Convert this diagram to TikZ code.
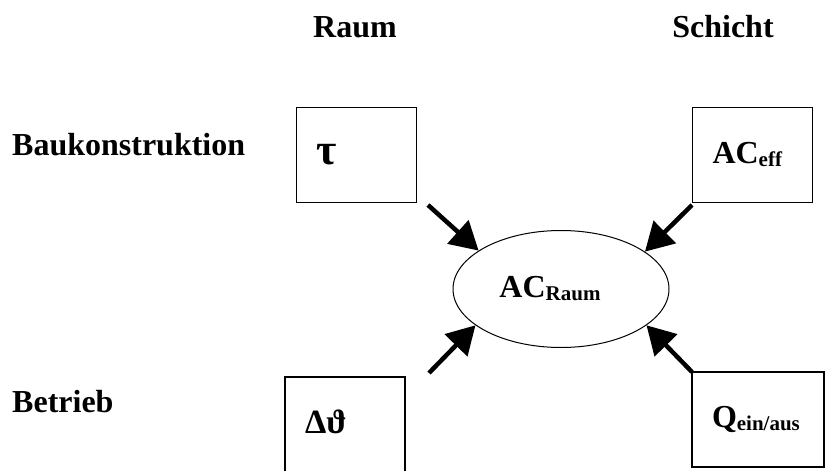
\documentclass[tikz,border=0pt]{standalone}
\usepackage{fontspec}
\setmainfont{Liberation Serif}
\usetikzlibrary{arrows.meta,shapes.geometric}
\newcommand{\subtxt}[1]{\raisebox{-3pt}{\fontsize{21}{24}\selectfont #1}}

\begin{document}
\begin{tikzpicture}[x=1pt,y=-1pt,
		lbl/.style={font=\fontsize{32}{38}\selectfont\bfseries, inner sep=0pt},
		box/.style={draw, line width=1.5pt, minimum width=120pt, minimum height=95pt, inner xsep=20pt, text width=80pt, align=left, font=\fontsize{32}{38}\selectfont\bfseries},
		arr/.style={line width=4.5pt, -{Triangle[length=28pt,width=31pt]}}]
		\useasboundingbox (0,0) rectangle (825,471);
		\clip (0,0) rectangle (825,471);
		
		%column and row headings
		\node[lbl, anchor=base] (raum) at (355,37) {Raum};
		\node[lbl, anchor=base] (schicht) at (723,37) {Schicht};
		\node[lbl, anchor=base west] (bau) at (12,155) {Baukonstruktion};
		\node[lbl, anchor=base west] (betrieb) at (12,412) {Betrieb};
		
		%the four influence boxes
		\node[box] (tau) at (356.5,155) {\raisebox{-4pt}{\fontsize{44}{48}\selectfont τ}};
		\node[box] (aceff) at (752.5,155) {AC\subtxt{eff}};
		\node[box] (dtheta) at (345,424.5) {\raisebox{6pt}{\fontsize{34}{40}\selectfont Δϑ}};
		\node[box, minimum width=132pt, text width=92pt] (qein) at (758,419.5) {Q\subtxt{ein/aus}};
		
		%the room value in the middle
		\node[draw, ellipse, line width=1pt, minimum width=216pt, minimum height=117pt, inner sep=0pt,
			font=\fontsize{32}{38}\selectfont\bfseries] (acraum) at (561,289) {\hspace*{-22pt}AC\subtxt{Raum}};
		
		%arrows into the ellipse
		\coordinate (t1) at (428,205);
		\coordinate (t2) at (692,205);
		\coordinate (t3) at (429,373);
		\coordinate (t4) at (692,372);
		\draw[arr] (t1) -- (acraum.155);
		\draw[arr] (t2) -- (acraum.24);
		\draw[arr] (t3) -- (acraum.203);
		\draw[arr] (t4) -- (acraum.337);
	\end{tikzpicture}
\end{document}
